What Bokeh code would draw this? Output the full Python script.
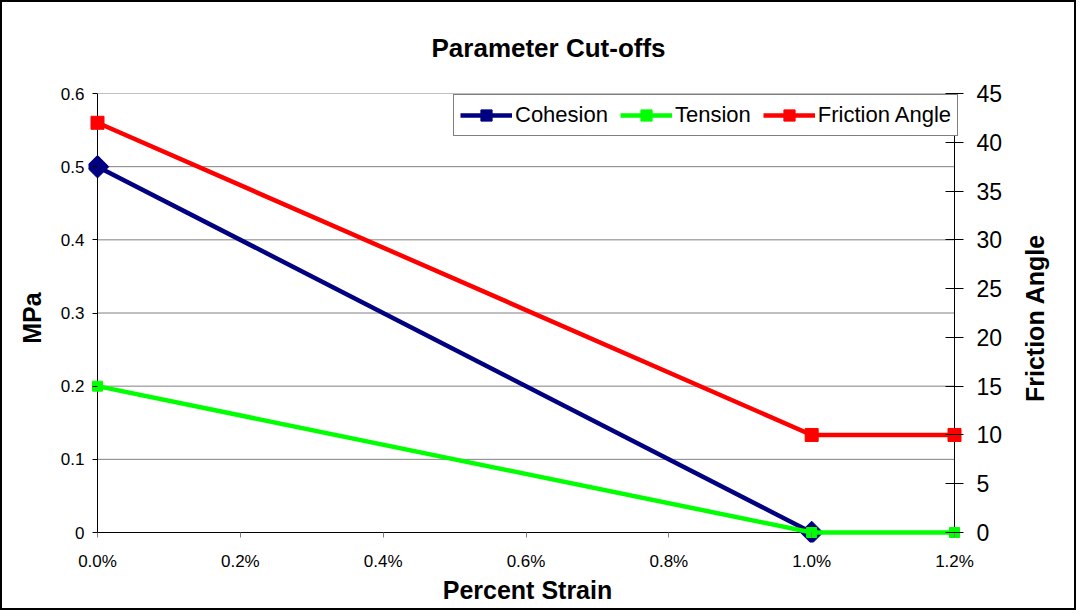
import numpy as np
from bokeh.plotting import figure
from bokeh.layouts import row
from bokeh.models import (Range1d, LinearAxis, FixedTicker, NumeralTickFormatter,
                          Legend, LegendItem)
from bokeh.embed import file_html
from bokeh.resources import INLINE

# ---- data ----
cohesion_x = [0.0, 0.01]
cohesion_y = [0.5, 0.0]
tension_x = [0.0, 0.01, 0.012]
tension_y = [0.2, 0.0, 0.0]
friction_x = [0.0, 0.01, 0.012]
friction_y = [42, 10, 10]
x_ticks = [0.0, 0.002, 0.004, 0.006, 0.008, 0.010, 0.012]
mpa_ticks = [0, 0.1, 0.2, 0.3, 0.4, 0.5, 0.6]
fa_ticks = [0, 5, 10, 15, 20, 25, 30, 35, 40, 45]

FONT = "Liberation Sans"
X_MAX, Y_MAX, FA_MAX = 0.012, 0.6, 45

# layout (pixels, page coordinates; canvases start at 2,2 inside the border)
ORG = 2
TOTAL_W, H = 1072, 606
WP = 1015
WQ = TOTAL_W - WP
AX_L, AX_R, AX_T, AX_B = 97, 954, 93, 532      # axis line positions on the page
PAD_L, PAD_R, PAD_B = 9, 12, 10                 # room so edge markers are not cut
fx0, fx1, fy1 = AX_L - PAD_L, AX_R + PAD_R, AX_B + PAD_B
xpp = X_MAX / (AX_R - AX_L)
ypp = Y_MAX / (AX_B - AX_T)
fpp = FA_MAX / (AX_B - AX_T)
BORDER_TOP = AX_T - ORG
BORDER_BOTTOM = (ORG + H) - fy1

p = figure(width=WP, height=H, output_backend="svg", toolbar_location=None,
           x_range=Range1d(-PAD_L * xpp, X_MAX + PAD_R * xpp),
           y_range=Range1d(-PAD_B * ypp, Y_MAX),
           min_border_left=fx0 - ORG, min_border_right=(ORG + WP) - fx1,
           min_border_top=BORDER_TOP, min_border_bottom=BORDER_BOTTOM,
           background_fill_color="white", border_fill_color="white")
p.outline_line_color = None

p.title.text = "Parameter Cut-offs"
p.title.text_font = FONT
p.title.text_font_size = "26px"
p.title.text_font_style = "bold"
p.title.text_color = "black"
p.title.align = "left"
p.title.offset = 343
p.title.vertical_align = "top"
p.title.standoff = 58

p.extra_y_ranges = {"fa": Range1d(-PAD_B * fpp, FA_MAX)}

# horizontal gridlines between the two vertical axes
p.xgrid.visible = False
p.ygrid.visible = False
n = len(mpa_ticks)
p.segment(x0=[0.0] * n, x1=[X_MAX] * n, y0=mpa_ticks, y1=mpa_ticks,
          line_color="#808080", line_width=1)
# axis lines at the data origin / end
p.segment(x0=[0.0, 0.0, X_MAX], x1=[X_MAX, 0.0, X_MAX],
          y0=[0.0, 0.0, 0.0], y1=[0.0, Y_MAX, Y_MAX],
          line_color="black", line_width=1)

# x axis
xa = p.xaxis[0]
xa.ticker = FixedTicker(ticks=x_ticks)
xa.formatter = NumeralTickFormatter(format="0.0%")
xa.axis_label = "Percent Strain"
xa.axis_label_text_font = FONT
xa.axis_label_text_font_size = "25px"
xa.axis_label_text_font_style = "bold"
xa.axis_label_text_color = "black"
xa.axis_label_standoff = 2
xa.major_label_text_font = FONT
xa.major_label_text_font_size = "17px"
xa.major_label_text_color = "black"
xa.major_label_standoff = 9
xa.major_tick_in = PAD_B
xa.major_tick_out = -5
xa.minor_tick_out = 0
xa.minor_tick_in = 0
xa.axis_line_color = None
xa.major_tick_line_color = "#808080"

# left axis
ya = p.yaxis[0]
ya.ticker = FixedTicker(ticks=mpa_ticks)
ya.axis_label = "MPa"
ya.axis_label_text_font = FONT
ya.axis_label_text_font_size = "25px"
ya.axis_label_text_font_style = "bold"
ya.axis_label_text_color = "black"
ya.axis_label_standoff = 12
ya.major_label_text_font = FONT
ya.major_label_text_font_size = "17px"
ya.major_label_text_color = "black"
ya.major_label_standoff = 4
ya.major_tick_in = PAD_L
ya.major_tick_out = -4
ya.minor_tick_in = 0
ya.minor_tick_out = 0
ya.axis_line_color = None

# right axis (ticks and numbers)
ra = LinearAxis(y_range_name="fa", ticker=FixedTicker(ticks=fa_ticks))
ra.major_label_text_font = FONT
ra.major_label_text_font_size = "23px"
ra.major_label_text_color = "black"
ra.major_label_standoff = 10
ra.major_tick_in = PAD_R + 9
ra.major_tick_out = -3
ra.minor_tick_in = 0
ra.minor_tick_out = 0
ra.axis_line_color = None
p.add_layout(ra, "right")

# series
c_line = p.line(cohesion_x, cohesion_y, line_color="#000080", line_width=4.5)
c_mark = p.scatter(cohesion_x, cohesion_y, marker="square", angle=np.pi / 4, size=16,
                   fill_color="#000080", line_color="#000080")
t_line = p.line(tension_x, tension_y, line_color="#00FF00", line_width=4.5)
t_mark = p.scatter(tension_x, tension_y, marker="square", size=10,
                   fill_color="#00FF00", line_color="#00FF00")
f_line = p.line(friction_x, friction_y, line_color="#FF0000", line_width=4.5, y_range_name="fa")
f_mark = p.scatter(friction_x, friction_y, marker="square", size=13,
                   fill_color="#FF0000", line_color="#FF0000", y_range_name="fa")

legend = Legend(items=[
    LegendItem(label="Cohesion", renderers=[c_line, c_mark]),
    LegendItem(label="Tension", renderers=[t_line, t_mark]),
    LegendItem(label="Friction Angle", renderers=[f_line, f_mark]),
], location=(453 - fx0, fy1 - 136), orientation="horizontal")
legend.label_text_font = FONT
legend.label_text_font_size = "22px"
legend.label_text_color = "black"
legend.glyph_width = 52
legend.glyph_height = 28
legend.label_standoff = 3
legend.spacing = 12
legend.padding = 6
legend.margin = 0
legend.border_line_color = "black"
legend.border_line_width = 1
legend.background_fill_color = "white"
legend.background_fill_alpha = 1
p.add_layout(legend, "center")

# narrow companion figure carrying the secondary axis title (reads bottom-to-top)
q = figure(width=WQ, height=H, output_backend="svg", toolbar_location=None,
           x_range=Range1d(0, 1), y_range=Range1d(0, FA_MAX),
           min_border_left=30, min_border_right=0,
           min_border_top=BORDER_TOP, min_border_bottom=BORDER_BOTTOM,
           background_fill_color="white", border_fill_color="white")
q.outline_line_color = None
q.title.text = ""
q.title.visible = False
q.xaxis.visible = False
q.xgrid.visible = False
q.ygrid.visible = False
qa = q.yaxis[0]
qa.ticker = FixedTicker(ticks=[])
qa.axis_label = "Friction Angle"
qa.axis_label_text_font = FONT
qa.axis_label_text_font_size = "25px"
qa.axis_label_text_font_style = "bold"
qa.axis_label_text_color = "black"
qa.axis_label_standoff = 0
qa.major_tick_in = 0
qa.major_tick_out = 0
qa.minor_tick_in = 0
qa.minor_tick_out = 0
qa.axis_line_color = None

layout = row(p, q)
layout.styles = {"border": "2px solid black"}

open("out.html", "w").write(file_html(layout, INLINE))
